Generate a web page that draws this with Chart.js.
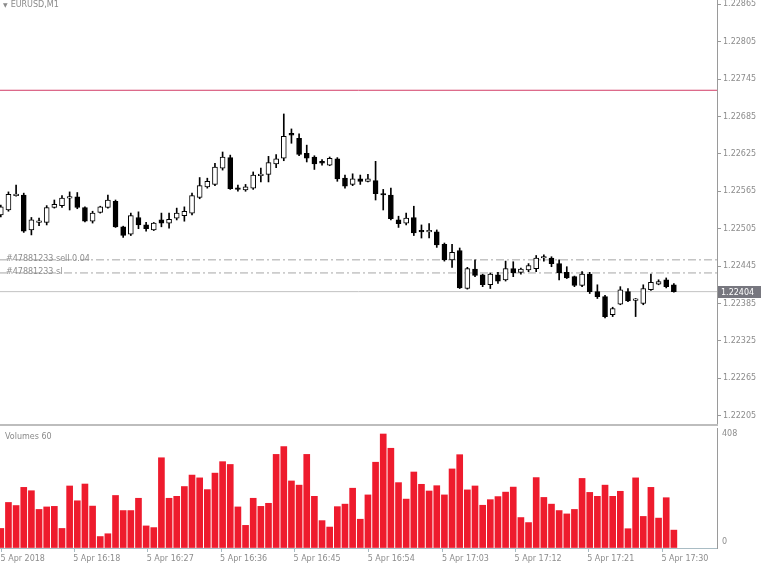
<!DOCTYPE html>
<html>
<head>
<meta charset="utf-8">
<script src="https://cdn.jsdelivr.net/npm/chart.js@4.4.1/dist/chart.umd.min.js"></script>
<style>
  body { margin: 0; background: #fff; width: 761px; height: 573px; overflow: hidden; position: relative; font-family: "DejaVu Sans", sans-serif; }
  canvas { position: absolute; left: 0; }
  #pricechart { top: 0; }
  #volumechart { top: 426px; }
  .sep { position: absolute; left: 0; top: 424px; width: 718px; height: 2px; background: #bdbdbd; }
  .title { position: absolute; left: 3px; top: 0px; font-size: 8px; color: #8a8a8a; }
  .title span { font-size: 6px; margin-right: 3px; }
  .vollabel { position: absolute; left: 5px; top: 432px; font-size: 8px; color: #8a8a8a; }
</style>
</head>
<body>
<canvas id="pricechart" width="761" height="425"></canvas>
<canvas id="volumechart" width="761" height="147"></canvas>
<div class="sep"></div>
<div class="title"><span>&#9660;</span>EURUSD,M1</div>
<div class="vollabel">Volumes 60</div>
<script>
// EURUSD M1 candles, one entry per bar (left to right)
var opens = [1.22527,1.22535,1.22558,1.22559,1.22503,1.22515,1.22515,1.22539,1.22542,1.22554,
  1.22556,1.22539,1.22517,1.22531,1.22539,1.22549,1.22508,1.22496,1.22523,1.22511,
  1.22503,1.22519,1.22514,1.22522,1.22526,1.22530,1.22555,1.22572,1.22576,1.22602,
  1.22619,1.22570,1.22567,1.22570,1.22590,1.22592,1.22609,1.22618,1.22658,1.22650,
  1.22626,1.22620,1.22613,1.22607,1.22617,1.22586,1.22576,1.22585,1.22581,1.22582,
  1.22560,1.22559,1.22519,1.22514,1.22523,1.22501,1.22500,1.22500,1.22480,1.22455,
  1.22470,1.22409,1.22440,1.22431,1.22415,1.22431,1.22423,1.22441,1.22435,1.22439,
  1.22441,1.22458,1.22458,1.22449,1.22435,1.22428,1.22414,1.22432,1.22404,1.22396,
  1.22367,1.22384,1.22404,1.22390,1.22385,1.22407,1.22416,1.22423,1.22415];
var highs = [1.22543,1.22564,1.22575,1.22562,1.22523,1.22522,1.22542,1.22551,1.22558,1.22564,
  1.22563,1.22540,1.22533,1.22541,1.22559,1.22551,1.22509,1.22530,1.22532,1.22515,
  1.22515,1.22530,1.22530,1.22538,1.22540,1.22562,1.22587,1.22586,1.22610,1.22628,
  1.22623,1.22575,1.22576,1.22596,1.22602,1.22621,1.22624,1.22689,1.22665,1.22657,
  1.22639,1.22622,1.22616,1.22620,1.22619,1.22591,1.22593,1.22591,1.22592,1.22613,
  1.22568,1.22570,1.22525,1.22530,1.22541,1.22511,1.22513,1.22503,1.22482,1.22480,
  1.22474,1.22443,1.22455,1.22432,1.22434,1.22435,1.22453,1.22452,1.22442,1.22449,
  1.22462,1.22463,1.22460,1.22455,1.22444,1.22429,1.22436,1.22435,1.22415,1.22398,
  1.22379,1.22412,1.22409,1.22393,1.22415,1.22432,1.22423,1.22426,1.22417];
var lows = [1.22524,1.22533,1.22557,1.22499,1.22495,1.22510,1.22511,1.22538,1.22539,1.22535,
  1.22537,1.22516,1.22514,1.22530,1.22538,1.22507,1.22491,1.22494,1.22505,1.22501,
  1.22502,1.22508,1.22506,1.22519,1.22517,1.22527,1.22553,1.22570,1.22574,1.22599,
  1.22568,1.22565,1.22565,1.22568,1.22580,1.22580,1.22603,1.22614,1.22642,1.22622,
  1.22612,1.22600,1.22607,1.22606,1.22581,1.22570,1.22574,1.22576,1.22580,1.22551,
  1.22535,1.22519,1.22507,1.22511,1.22494,1.22490,1.22490,1.22475,1.22453,1.22443,
  1.22409,1.22408,1.22428,1.22412,1.22409,1.22417,1.22421,1.22428,1.22432,1.22436,
  1.22436,1.22453,1.22444,1.22423,1.22425,1.22412,1.22412,1.22401,1.22393,1.22362,
  1.22364,1.22383,1.22388,1.22364,1.22383,1.22406,1.22415,1.22410,1.22403];
var closes = [1.22540,1.22560,1.22560,1.22501,1.22519,1.22516,1.22539,1.22544,1.22554,1.22555,
  1.22539,1.22517,1.22530,1.22540,1.22551,1.22508,1.22494,1.22526,1.22511,1.22505,
  1.22514,1.22514,1.22520,1.22530,1.22533,1.22558,1.22574,1.22581,1.22604,1.22620,
  1.22569,1.22568,1.22572,1.22591,1.22592,1.22611,1.22617,1.22653,1.22655,1.22624,
  1.22618,1.22609,1.22610,1.22618,1.22585,1.22573,1.22585,1.22581,1.22585,1.22561,
  1.22559,1.22521,1.22513,1.22522,1.22498,1.22500,1.22501,1.22479,1.22455,1.22467,
  1.22410,1.22441,1.22430,1.22415,1.22432,1.22421,1.22441,1.22434,1.22440,1.22446,
  1.22458,1.22460,1.22449,1.22434,1.22426,1.22414,1.22432,1.22404,1.22396,1.22364,
  1.22377,1.22407,1.22389,1.22392,1.22409,1.22419,1.22420,1.22412,1.22404];
var volumes = [70,163,152,217,205,138,147,149,70,222,
  169,229,150,41,51,188,134,134,178,79,
  73,323,178,185,220,261,251,209,268,309,
  299,147,81,178,149,160,335,363,240,225,
  335,185,98,75,148,157,214,103,190,307,
  408,357,234,175,272,228,204,223,190,283,
  334,208,222,153,173,184,200,218,109,91,
  252,181,157,134,122,138,249,199,185,225,
  185,203,69,251,113,217,107,180,64];

// axis labels
var priceTicks = [1.22865,1.22805,1.22745,1.22685,1.22625,1.22565,1.22505,1.22445,1.22385,1.22325,1.22265,1.22205];
var timeLabels = ['5 Apr 2018','5 Apr 16:18','5 Apr 16:27','5 Apr 16:36','5 Apr 16:45','5 Apr 16:54','5 Apr 17:03','5 Apr 17:12','5 Apr 17:21','5 Apr 17:30'];
var timeTickBars = [0.1, 9.6, 19.2, 28.8, 38.4, 48.1, 57.8, 67.3, 76.8, 86.5];
var volumeTicks = [0, 408];

// horizontal levels
var alertLevel = 1.22727;
var sellLevel = 1.22455;
var stopLevel = 1.22434;
var lastPrice = 1.22404;
var orderText = ['#47881233 sell 0.04', '#47881233 sl'];

var xMin = -0.105, xMax = 93.64;
var labelFont = { family: 'DejaVu Sans', size: 8 };
var labelColor = '#8c8c8c';

Chart.defaults.animation = false;
Chart.defaults.font.family = 'DejaVu Sans';

function levelLine(p, color, dash) {
  return {
    type: 'line',
    data: [{ x: xMin, y: p }, { x: xMax, y: p }],
    borderColor: color,
    borderWidth: 1,
    borderDash: dash,
    pointRadius: 0,
    order: 5
  };
}

var bodies = [], wicks = [], vols = [];
for (var i = 0; i < opens.length; i++) {
  bodies.push({ x: i, y: [opens[i], closes[i]] });
  wicks.push({ x: i, y: [lows[i], highs[i]] });
  vols.push({ x: i, y: volumes[i] });
}

var priceOverlay = {
  id: 'priceOverlay',
  afterDatasetsDraw: function (chart) {
    var c = chart.ctx, y = chart.scales.y;
    c.save();
    c.font = '8px "DejaVu Sans"';
    c.fillStyle = '#8c8c8c';
    c.textBaseline = 'alphabetic';
    c.textAlign = 'left';
    c.fillText(orderText[0], 6, y.getPixelForValue(sellLevel) + 1);
    c.fillText(orderText[1], 6, y.getPixelForValue(stopLevel) + 1);
    var py = Math.round(y.getPixelForValue(lastPrice));
    c.fillStyle = '#77777f';
    c.fillRect(718, py - 6, 43, 12);
    c.fillStyle = '#ffffff';
    c.textBaseline = 'middle';
    c.fillText(lastPrice.toFixed(5), 721, py + 0.5);
    c.restore();
  }
};

new Chart(document.getElementById('pricechart'), {
  type: 'bar',
  data: {
    datasets: [{
      data: bodies,
      grouped: false,
      barThickness: 5,
      minBarLength: 1.5,
      borderSkipped: false,
      borderWidth: 1,
      borderColor: '#000',
      backgroundColor: function (ctx) {
        var k = ctx.dataIndex;
        return closes[k] >= opens[k] ? '#ffffff' : '#000000';
      },
      order: 0
    }, {
      data: wicks,
      grouped: false,
      barThickness: 1,
      borderSkipped: false,
      borderWidth: 0,
      backgroundColor: '#000',
      order: 1
    },
    levelLine(alertLevel, '#d23c66', []),
    levelLine(sellLevel, '#a6a6a6', [8, 3, 2, 3]),
    levelLine(stopLevel, '#a6a6a6', [8, 3, 2, 3]),
    levelLine(lastPrice, '#c2c2c2', [])]
  },
  options: {
    responsive: false,
    layout: { padding: 0 },
    plugins: { legend: { display: false }, tooltip: { enabled: false } },
    scales: {
      x: {
        type: 'linear', min: xMin, max: xMax, offset: false,
        display: false, grid: { offset: false }
      },
      y: {
        position: 'right', min: 1.221901, max: 1.228718, beginAtZero: false,
        grid: { drawOnChartArea: false, tickLength: 4, color: '#9a9a9a' },
        border: { color: '#9a9a9a', width: 1 },
        ticks: {
          padding: 2, color: labelColor, font: labelFont,
          callback: function (v) { return v.toFixed(5); }
        },
        afterBuildTicks: function (s) { s.ticks = priceTicks.map(function (v) { return { value: v }; }); },
        afterFit: function (s) { s.width = 44; s.paddingTop = 0; s.paddingBottom = 0; }
      }
    }
  },
  plugins: [priceOverlay]
});

var volumeAxis = {
  id: 'volumeAxis',
  afterDraw: function (chart) {
    var c = chart.ctx, y = chart.scales.y;
    c.save();
    c.font = '8px "DejaVu Sans"';
    c.fillStyle = labelColor;
    c.textAlign = 'left';
    c.textBaseline = 'middle';
    c.fillText(String(volumeTicks[1]), 722, y.getPixelForValue(volumeTicks[1]));
    c.textBaseline = 'bottom';
    c.fillText(String(volumeTicks[0]), 722, y.getPixelForValue(volumeTicks[0]) - 2);
    c.restore();
  }
};

new Chart(document.getElementById('volumechart'), {
  type: 'bar',
  data: {
    datasets: [{
      data: vols,
      barThickness: 6,
      backgroundColor: '#ee1b2d',
      borderWidth: 0
    }]
  },
  options: {
    responsive: false,
    layout: { padding: { top: 2, left: 0, right: 0, bottom: 0 } },
    plugins: { legend: { display: false }, tooltip: { enabled: false } },
    scales: {
      x: {
        type: 'linear', min: xMin, max: xMax, offset: false,
        grid: { offset: false, drawOnChartArea: false, tickLength: 4, color: '#a9bcc4' },
        border: { color: '#a9bcc4', width: 1 },
        ticks: {
          autoSkip: false, maxRotation: 0, align: 'start', labelOffset: -1, padding: 2,
          color: labelColor, font: labelFont,
          callback: function (v, idx) { return timeLabels[idx]; }
        },
        afterBuildTicks: function (s) { s.ticks = timeTickBars.map(function (v) { return { value: v }; }); },
        afterFit: function (s) { s.height = 25; s.paddingLeft = 0; s.paddingRight = 0; }
      },
      y: {
        position: 'right', min: 0, max: 429.5,
        grid: { drawOnChartArea: false, drawTicks: false },
        border: { color: '#9a9a9a', width: 1 },
        ticks: { display: false },
        afterFit: function (s) { s.width = 44; s.paddingTop = 0; s.paddingBottom = 0; }
      }
    }
  },
  plugins: [volumeAxis]
});
</script>
</body>
</html>
